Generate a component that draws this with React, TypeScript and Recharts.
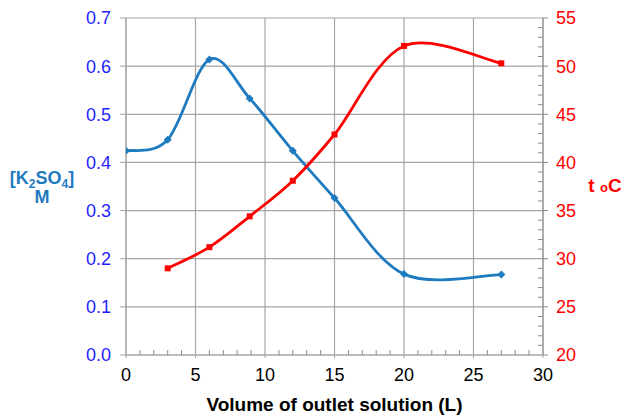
import React from "react";
import { LineChart, Line, XAxis, YAxis, CartesianGrid } from "recharts";

// Volume of outlet solution (L)
const volume = [0, 3, 6, 8.9, 12, 15, 20, 27];
const volumeT = [3, 6, 8.9, 12, 15, 20, 27];
// [K2SO4], M
const k2so4 = [0.424, 0.447, 0.614, 0.533, 0.424, 0.326, 0.168, 0.167];
// temperature, °C
const temperature = [29.0, 31.2, 34.4, 38.1, 42.9, 52.1, 50.3];

const xDomain = [0, 30];
const xTicks = [0, 5, 10, 15, 20, 25, 30];
const xMinorTicks = Array.from({ length: 31 }, (_, i) => i);
const leftTicks = [0, 0.1, 0.2, 0.3, 0.4, 0.5, 0.6, 0.7];
const rightTicks = [20, 25, 30, 35, 40, 45, 50, 55];
const rightMinorTicks = Array.from({ length: 36 }, (_, i) => 20 + i);

const concData = volume.map((x, i) => ({ x, c: k2so4[i] }));
const tempData = volumeT.map((x, i) => ({ x, t: temperature[i] }));

const BLUE = "#1f7bbf";
const RED = "#ff0000";
const GRID = "#a6a6a6";
const TICK = "#8c8c8c";

// Excel-like smoothed line (Catmull-Rom as cubic beziers)
const smooth = (context: any) => {
  let pts: number[][] = [];
  return {
    areaStart() {},
    areaEnd() {},
    lineStart() {
      pts = [];
    },
    lineEnd() {
      if (!pts.length) return;
      context.moveTo(pts[0][0], pts[0][1]);
      for (let i = 0; i < pts.length - 1; i++) {
        const p0 = pts[i - 1] || pts[i];
        const p1 = pts[i];
        const p2 = pts[i + 1];
        const p3 = pts[i + 2] || p2;
        context.bezierCurveTo(
          p1[0] + (p2[0] - p0[0]) / 6,
          p1[1] + (p2[1] - p0[1]) / 6,
          p2[0] - (p3[0] - p1[0]) / 6,
          p2[1] - (p3[1] - p1[1]) / 6,
          p2[0],
          p2[1]
        );
      }
    },
    point(x: number, y: number) {
      pts.push([+x, +y]);
    },
  };
};

const Diamond = ({ cx, cy }: any) =>
  cx == null ? null : (
    <polygon
      points={`${cx},${cy - 4} ${cx + 4},${cy} ${cx},${cy + 4} ${cx - 4},${cy}`}
      fill={BLUE}
    />
  );

const Square = ({ cx, cy }: any) =>
  cx == null ? null : <rect x={cx - 3} y={cy - 3} width={6} height={6} fill={RED} />;

const XTick = ({ x, y, payload }: any) => {
  const major = xTicks.includes(payload.value);
  return (
    <g>
      <line x1={x} x2={x} y1={y} y2={major ? y + 3 : y - 5} stroke={major ? GRID : TICK} />
      {major && (
        <text x={x} y={y + 13} dy="0.71em" textAnchor="middle" fill="#000" fontSize={18}>
          {payload.value}
        </text>
      )}
    </g>
  );
};

const RightTick = ({ x, y, payload }: any) => {
  const major = rightTicks.includes(payload.value);
  return (
    <g>
      <line x1={x} x2={major ? x + 5 : x - 5} y1={y} y2={y} stroke={TICK} />
      {major && (
        <text x={x + 13} y={y} dy="0.355em" textAnchor="start" fill={RED} fontSize={18}>
          {payload.value}
        </text>
      )}
    </g>
  );
};

const LeftLabel = ({ viewBox }: any) => {
  const cx = viewBox.x + viewBox.width / 3;
  const cy = viewBox.y + viewBox.height / 2;
  return (
    <text fill={BLUE} fontWeight="bold" fontSize={18} textAnchor="middle">
      <tspan x={cx} y={cy - 3}>
        [K<tspan fontSize={12} dy={4}>2</tspan>
        <tspan dy={-4}>SO</tspan>
        <tspan fontSize={12} dy={4}>4</tspan>
        <tspan dy={-4}>]</tspan>
      </tspan>
      <tspan x={cx} y={cy + 16}>
        M
      </tspan>
    </text>
  );
};

const RightLabel = ({ viewBox }: any) => {
  const x = viewBox.x + viewBox.width - 16;
  const y = viewBox.y + viewBox.height / 2 + 5;
  return (
    <text x={x} y={y} fill={RED} fontWeight="bold" fontSize={19} textAnchor="middle">
      t <tspan fontSize={13}>o</tspan>C
    </text>
  );
};

// vertical grid only at the major x ticks
const majorVertical = ({ xAxis, offset }: any) =>
  xTicks.map((t) =>
    xAxis && typeof xAxis.scale === "function"
      ? xAxis.scale(t)
      : offset.left + ((t - xDomain[0]) / (xDomain[1] - xDomain[0])) * offset.width
  );

export default function App() {
  return (
    <div style={{ position: "absolute", left: 0, top: 0 }}>
      <LineChart
        width={621}
        height={416}
        margin={{ top: 18, right: 0, left: 0, bottom: 0 }}
        style={{ fontFamily: "'Liberation Sans', Arial, sans-serif" }}
      >
        <CartesianGrid
          yAxisId="left"
          stroke={GRID}
          strokeWidth={1.2}
          verticalCoordinatesGenerator={majorVertical}
        />
        <XAxis
          type="number"
          dataKey="x"
          domain={xDomain}
          ticks={xMinorTicks}
          interval={0}
          allowDataOverflow
          height={61}
          stroke={GRID}
          tickLine={false}
          tickSize={0}
          tickMargin={0}
          tick={<XTick />}
          label={{
            value: "Volume of outlet solution (L)",
            position: "insideBottom",
            offset: 5,
            fill: "#000",
            fontSize: 19,
            fontWeight: "bold",
          }}
        />
        <YAxis
          yAxisId="left"
          domain={[0, 0.7]}
          ticks={leftTicks}
          width={126}
          stroke={GRID}
          tickSize={6}
          tickMargin={9}
          tickFormatter={(v) => v.toFixed(1)}
          tick={{ fill: "#1f1fff", fontSize: 18 }}
          label={<LeftLabel />}
        />
        <YAxis
          yAxisId="right"
          orientation="right"
          domain={[20, 55]}
          ticks={rightMinorTicks}
          interval={0}
          width={78}
          stroke={TICK}
          tickLine={false}
          tickSize={0}
          tickMargin={0}
          tick={<RightTick />}
          label={<RightLabel />}
        />
        <Line
          yAxisId="left"
          data={concData}
          dataKey="c"
          type={smooth as any}
          stroke={BLUE}
          strokeWidth={2.8}
          dot={<Diamond />}
          activeDot={false}
          isAnimationActive={false}
        />
        <Line
          yAxisId="right"
          data={tempData}
          dataKey="t"
          type={smooth as any}
          stroke={RED}
          strokeWidth={2.8}
          dot={<Square />}
          activeDot={false}
          isAnimationActive={false}
        />
      </LineChart>
    </div>
  );
}
